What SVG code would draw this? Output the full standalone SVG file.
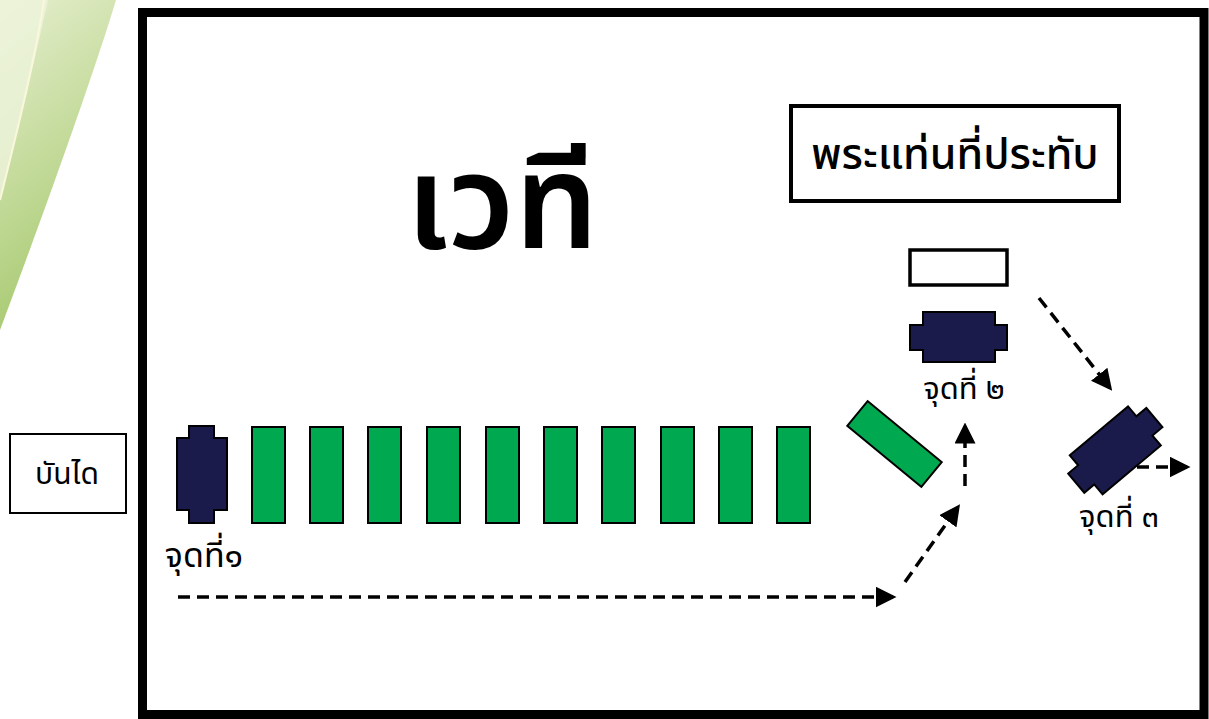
<svg xmlns="http://www.w3.org/2000/svg" width="1209" height="719" viewBox="0 0 1209 719">
<style>
  text { font-family: "Noto Sans", "Noto Sans Thai", "DejaVu Sans", sans-serif; fill: #000; text-anchor: middle; }
  .green { fill: #00a94f; stroke: #000; stroke-width: 2; }
  .navy { fill: #1b1b4b; stroke: #000; stroke-width: 2; }
  .dash { fill: none; stroke: #000; stroke-width: 3.5; stroke-dasharray: 12 7; marker-end: url(#arr); }
  .lbl { font-size: 31px; }
  .lbl1 { font-size: 34px; }
</style>
<defs>
  <linearGradient id="sw" x1="0" y1="0" x2="0.3" y2="1">
    <stop offset="0" stop-color="#e6efcf"/>
    <stop offset="1" stop-color="#a6c96e"/>
  </linearGradient>
  <marker id="arr" markerWidth="6" markerHeight="6" refX="5" refY="3" orient="auto" markerUnits="strokeWidth">
    <path d="M0,0 L6,3 L0,6 Z" fill="#000"/>
  </marker>
</defs>
<rect width="1209" height="719" fill="#fff"/>
<g id="swoosh">
  <path d="M0,0 L116,0 C95,70 45,210 0,330 Z" fill="url(#sw)"/>
  <path d="M0,0 L48,0 C35,60 15,140 0,200 Z" fill="#eef4dc" opacity="0.8"/>
  <path d="M44,0 C35,60 15,140 0,200" fill="none" stroke="#fbf7dc" stroke-width="2"/>
</g>
<g id="stage-frame">
  <rect x="142.5" y="12.5" width="1061.5" height="702" fill="none" stroke="#000" stroke-width="9"/>
</g>
<g id="title">
  <text x="502" y="248" font-size="132" font-weight="600">เวที</text>
</g>
<g id="throne-label">
  <rect x="791" y="106" width="328" height="95" fill="#fff" stroke="#000" stroke-width="4"/>
  <text x="955" y="169" font-size="43" font-weight="500">พระแท่นที่ประทับ</text>
</g>
<g id="throne">
  <rect x="910" y="250" width="97" height="35" fill="#fff" stroke="#000" stroke-width="3.5"/>
</g>
<g id="stairs">
  <rect x="10" y="434" width="116" height="79" fill="#fff" stroke="#000" stroke-width="2"/>
  <text x="67" y="484" font-size="30">บันได</text>
</g>
<g id="point1">
  <path class="navy" d="M189,426 H214 V438 H227 V510 H214 V523 H189 V510 H177 V438 H189 Z"/>
  <text class="lbl1" x="204" y="567">จุดที่๑</text>
</g>
<g id="seats">
  <rect class="green" x="252" y="427" width="33" height="96"/>
  <rect class="green" x="310" y="427" width="33" height="96"/>
  <rect class="green" x="368" y="427" width="33" height="96"/>
  <rect class="green" x="427" y="427" width="33" height="96"/>
  <rect class="green" x="486" y="427" width="33" height="96"/>
  <rect class="green" x="544" y="427" width="33" height="96"/>
  <rect class="green" x="602" y="427" width="33" height="96"/>
  <rect class="green" x="661" y="427" width="33" height="96"/>
  <rect class="green" x="719" y="427" width="33" height="96"/>
  <rect class="green" x="777" y="427" width="33" height="96"/>
  <rect class="green" x="846.5" y="428" width="96" height="32" transform="rotate(39.5 894.5 444)"/>
</g>
<g id="point2">
  <path class="navy" d="M923,312 H995 V325 H1007 V350 H995 V362 H923 V350 H910 V325 H923 Z"/>
  <text class="lbl" x="964" y="399">จุดที่ ๒</text>
</g>
<g id="point3">
  <path class="navy" transform="rotate(-40 1115 450)" d="M1077,425 H1153 V438 H1166 V463 H1153 V476 H1077 V463 H1064 V438 H1077 Z"/>
  <text class="lbl" x="1119" y="527">จุดที่ ๓</text>
</g>
<g id="connectors">
  <path class="dash" d="M178,597 H893"/>
  <path class="dash" d="M905,582 L958,507"/>
  <path class="dash" d="M965,486 V426"/>
  <path class="dash" d="M1039,298 L1110,388"/>
  <path class="dash" d="M1137,467 H1187"/>
</g>
</svg>
